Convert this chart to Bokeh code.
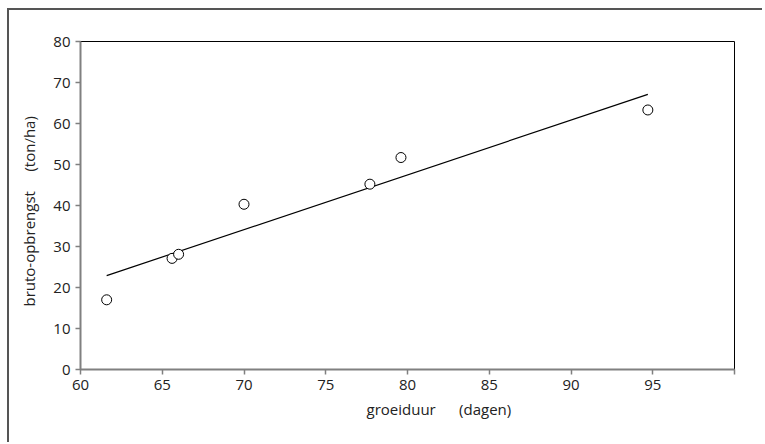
from bokeh.plotting import figure
from bokeh.models import FixedTicker, Range1d, Title
from bokeh.embed import file_html
from bokeh.resources import INLINE

# data
days = [61.6, 65.6, 66.0, 70.0, 77.7, 79.6, 94.7]
yield_t = [17.0, 27.1, 28.1, 40.3, 45.2, 51.7, 63.3]
fit_x = [61.6, 94.7]
fit_y = [22.9, 67.1]
x_ticks = [60, 65, 70, 75, 80, 85, 90, 95, 100]
y_ticks = [0, 10, 20, 30, 40, 50, 60, 70, 80]
NB = "\u00a0"
x_title = "groeiduur" + NB * 6 + "(dagen)"
y_title = "bruto-opbrengst" + NB * 5 + "(ton/ha)" + NB * 3

FONT = "Open Sans"

p = figure(width=755, height=434, output_backend="svg", toolbar_location=None,
           x_range=Range1d(60, 100), y_range=Range1d(0, 80),
           min_border_left=71, min_border_right=30, min_border_top=31, min_border_bottom=75)
p.styles = {"margin-left": "7px", "margin-top": "8px",
            "border-left": "2px solid #555555", "border-top": "2px solid #555555"}
p.grid.visible = False
p.outline_line_color = "black"
p.outline_line_width = 1
p.background_fill_color = "white"
p.border_fill_color = "white"

for ax in (p.xaxis[0], p.yaxis[0]):
    ax.axis_line_color = "#808080"
    ax.axis_line_width = 2
    ax.major_tick_line_color = "#808080"
    ax.major_tick_line_width = 1.5
    ax.major_tick_in = 0
    ax.major_tick_out = 5
    ax.minor_tick_line_color = None
    ax.major_label_text_font = FONT
    ax.major_label_text_font_size = "15px"
    ax.major_label_text_color = "#222222"
    ax.axis_label_text_font = FONT
    ax.axis_label_text_font_size = "15px"
    ax.axis_label_text_font_style = "normal"
    ax.axis_label_text_color = "#222222"

p.xaxis.ticker = FixedTicker(ticks=x_ticks)
p.yaxis.ticker = FixedTicker(ticks=y_ticks)
p.xaxis.major_label_overrides = {100: ""}
p.xaxis.major_label_standoff = 5
p.yaxis.major_label_standoff = 5
p.yaxis.axis_label = y_title
p.yaxis.axis_label_standoff = 11

p.line(fit_x, fit_y, line_color="black", line_width=1.2)
p.scatter(days, yield_t, marker="circle", size=10, fill_color="white",
          line_color="black", line_width=1)

p.add_layout(Title(text=x_title, align="left", offset=286, standoff=8,
                   text_font=FONT, text_font_size="15px",
                   text_font_style="normal", text_color="#222222"), "below")

open("out.html", "w").write(file_html(p, INLINE))
